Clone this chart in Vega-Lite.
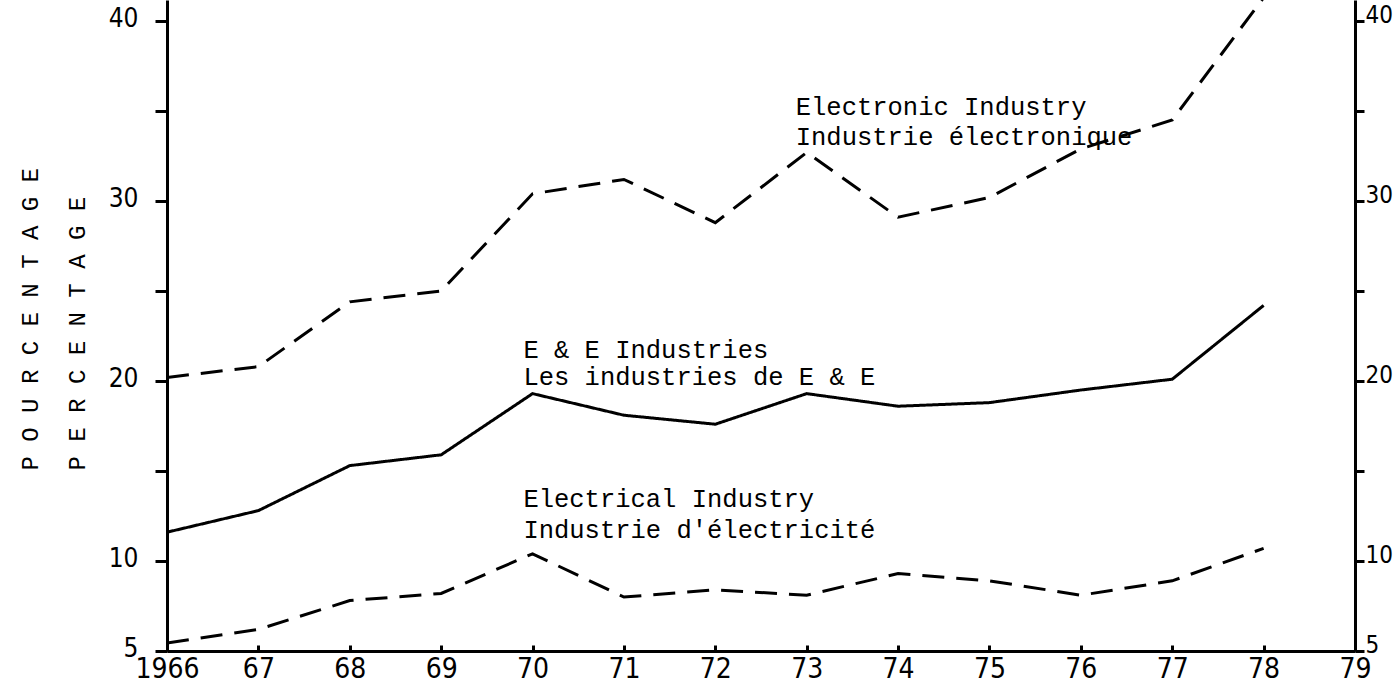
{
  "$schema": "https://vega.github.io/schema/vega-lite/v6.json",
  "width": 1188,
  "height": 651,
  "autosize": {"type": "none"},
  "padding": {"left": 167, "top": 0, "right": 39, "bottom": 34},
  "background": "white",
  "config": {
    "view": {"stroke": null},
    "axis": {
      "grid": false,
      "domainColor": "#000",
      "domainWidth": 3,
      "tickColor": "#000",
      "tickWidth": 3,
      "labelColor": "#000",
      "labelFont": "Liberation Sans Narrow, DejaVu Sans Condensed, sans-serif",
      "labelFontSize": 26,
      "labelFontWeight": "normal"
    }
  },
  "datasets": {
    "series": [
      {"series": "Electronic", "year": 1966, "value": 20.2},
      {"series": "Electronic", "year": 1967, "value": 20.8},
      {"series": "Electronic", "year": 1968, "value": 24.4},
      {"series": "Electronic", "year": 1969, "value": 25.0},
      {"series": "Electronic", "year": 1970, "value": 30.4},
      {"series": "Electronic", "year": 1971, "value": 31.2},
      {"series": "Electronic", "year": 1972, "value": 28.8},
      {"series": "Electronic", "year": 1973, "value": 32.7},
      {"series": "Electronic", "year": 1974, "value": 29.1},
      {"series": "Electronic", "year": 1975, "value": 30.2},
      {"series": "Electronic", "year": 1976, "value": 32.9},
      {"series": "Electronic", "year": 1977, "value": 34.5},
      {"series": "Electronic", "year": 1978, "value": 41.3},
      {"series": "E&E", "year": 1966, "value": 11.6},
      {"series": "E&E", "year": 1967, "value": 12.8},
      {"series": "E&E", "year": 1968, "value": 15.3},
      {"series": "E&E", "year": 1969, "value": 15.9},
      {"series": "E&E", "year": 1970, "value": 19.3},
      {"series": "E&E", "year": 1971, "value": 18.1},
      {"series": "E&E", "year": 1972, "value": 17.6},
      {"series": "E&E", "year": 1973, "value": 19.3},
      {"series": "E&E", "year": 1974, "value": 18.6},
      {"series": "E&E", "year": 1975, "value": 18.8},
      {"series": "E&E", "year": 1976, "value": 19.5},
      {"series": "E&E", "year": 1977, "value": 20.1},
      {"series": "E&E", "year": 1978, "value": 24.2},
      {"series": "Electrical", "year": 1966, "value": 5.45},
      {"series": "Electrical", "year": 1967, "value": 6.2},
      {"series": "Electrical", "year": 1968, "value": 7.8},
      {"series": "Electrical", "year": 1969, "value": 8.2},
      {"series": "Electrical", "year": 1970, "value": 10.4},
      {"series": "Electrical", "year": 1971, "value": 8.0},
      {"series": "Electrical", "year": 1972, "value": 8.4},
      {"series": "Electrical", "year": 1973, "value": 8.1},
      {"series": "Electrical", "year": 1974, "value": 9.3},
      {"series": "Electrical", "year": 1975, "value": 8.9},
      {"series": "Electrical", "year": 1976, "value": 8.1},
      {"series": "Electrical", "year": 1977, "value": 8.9},
      {"series": "Electrical", "year": 1978, "value": 10.7}
    ],
    "labels": [
      {"year": 1972.88, "value": 34.8, "text": "Electronic Industry"},
      {"year": 1972.88, "value": 33.1, "text": "Industrie électronique"},
      {"year": 1969.9, "value": 21.3, "text": "E & E Industries"},
      {"year": 1969.9, "value": 19.8, "text": "Les industries de E & E"},
      {"year": 1969.9, "value": 13.0, "text": "Electrical Industry"},
      {"year": 1969.9, "value": 11.3, "text": "Industrie d'électricité"}
    ]
  },
  "layer": [
    {
      "data": {"name": "series"},
      "mark": {"type": "line", "strokeWidth": 3, "color": "#000", "clip": true, "strokeCap": "butt"},
      "encoding": {
        "x": {
          "field": "year",
          "type": "quantitative",
          "scale": {"domain": [1966, 1979], "nice": false, "zero": false},
          "axis": {
            "title": null,
            "values": [1966, 1967, 1968, 1969, 1970, 1971, 1972, 1973, 1974, 1975, 1976, 1977, 1978, 1979],
            "labelExpr": "datum.value == 1966 ? '1966' : slice(toString(datum.value), 2)",
            "tickSize": -6,
            "labelPadding": 10,
            "labelFontSize": 28,
            "labelBaseline": "top",
            "labelFlush": false,
            "labelOverlap": false
          }
        },
        "y": {
          "field": "value",
          "type": "quantitative",
          "scale": {"domain": [5, 41.17], "nice": false, "zero": false},
          "axis": {
            "orient": "left",
            "values": [5, 10, 15, 20, 25, 30, 35, 40],
            "labelExpr": "indexof([15, 25, 35], datum.value) >= 0 ? '' : datum.label",
            "tickSize": 12,
            "labelPadding": 17,
            "labelBaseline": "middle",
            "labelOffset": -3,
            "labelFlush": false,
            "labelOverlap": false,
            "title": ["P O U R C E N T A G E", "P E R C E N T A G E"],
            "titleFont": "Liberation Mono",
            "titleFontSize": 24,
            "titleFontWeight": "normal",
            "titleColor": "#000",
            "titleAngle": -90,
            "titleAlign": "left",
            "titleBaseline": "top",
            "titleLineHeight": 47,
            "titleX": -149,
            "titleY": 470
          }
        },
        "detail": {"field": "series"},
        "strokeDash": {
          "field": "series",
          "type": "nominal",
          "scale": {"domain": ["Electronic", "E&E", "Electrical"], "range": [[22, 12], [1, 0], [22, 12]]},
          "legend": null
        }
      }
    },
    {
      "data": {"name": "labels"},
      "mark": {"type": "text", "align": "left", "baseline": "alphabetic", "font": "Liberation Mono", "fontSize": 25.5, "color": "#000"},
      "encoding": {
        "x": {"field": "year", "type": "quantitative", "axis": {"title": null}},
        "y": {
          "field": "value",
          "type": "quantitative",
          "axis": {
            "orient": "right",
            "title": null,
            "values": [5, 10, 15, 20, 25, 30, 35, 40],
            "labelExpr": "indexof([15, 25, 35], datum.value) >= 0 ? '' : datum.label",
            "tickSize": 9,
            "labelPadding": 1,
            "labelFontSize": 24,
            "labelBaseline": "middle",
            "labelOffset": -6,
            "labelFlush": false,
            "labelOverlap": false
          }
        },
        "text": {"field": "text"}
      }
    }
  ],
  "resolve": {"axis": {"y": "independent"}}
}
